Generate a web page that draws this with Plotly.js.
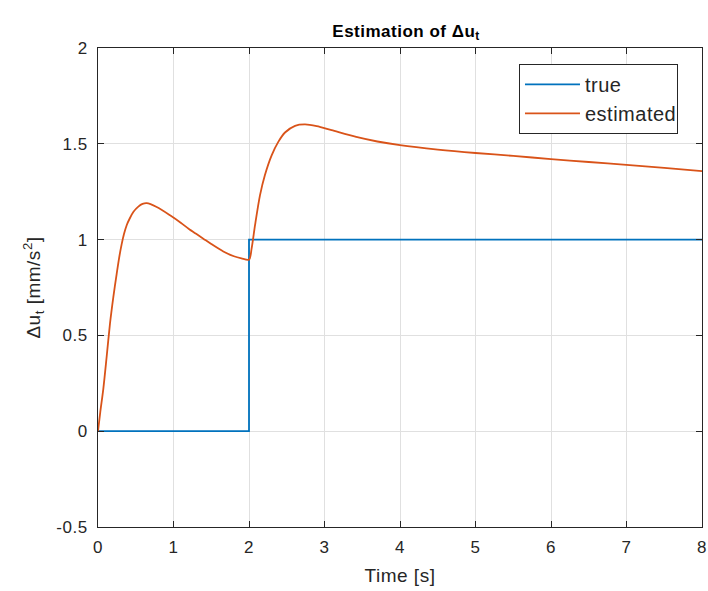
<!DOCTYPE html>
<html>
<head>
<meta charset="utf-8">
<script src="https://cdn.plot.ly/plotly-3.0.1.min.js"></script>
<style>
  html, body { margin: 0; padding: 0; background: #fff; }
  #chart { width: 708px; height: 591px; }
  #chart svg text { letter-spacing: 0.5px; }
</style>
</head>
<body>
<div id="chart"></div>
<script>
// Step input: zero until t = 2 s, then 1 mm/s^2
const trueTime = [0, 2, 8];
const trueValue = [0, 1, 1];

// Estimator output over time
const estTime = [0, 0.03, 0.07, 0.115, 0.159, 0.203, 0.247, 0.28, 0.313, 0.345, 0.38, 0.42, 0.47, 0.534, 0.59, 0.645,
  0.777, 0.954, 1.1, 1.2, 1.3, 1.395, 1.5, 1.66, 1.8, 1.9, 2.0,
  2.035, 2.08, 2.146, 2.21, 2.3, 2.388, 2.477, 2.61, 2.742, 2.897, 3.095,
  3.42, 3.7, 4.0, 4.5, 5, 5.5, 6, 6.5, 7, 7.5, 8];
const estValue = [0, 0.1, 0.22, 0.39, 0.562, 0.7, 0.82, 0.905, 0.975, 1.03, 1.075, 1.11, 1.145, 1.172, 1.186, 1.19,
  1.17, 1.127, 1.087, 1.057, 1.03, 1.005, 0.977, 0.938, 0.913, 0.902, 0.895,
  0.954, 1.075, 1.232, 1.336, 1.44, 1.51, 1.559, 1.594, 1.601, 1.592, 1.571,
  1.536, 1.512, 1.493, 1.47, 1.452, 1.437, 1.42, 1.405, 1.39, 1.374, 1.357];

const xTicks = [0, 1, 2, 3, 4, 5, 6, 7, 8];
const yTicks = [-0.5, 0, 0.5, 1, 1.5, 2];
const yTickLabels = ['-0.5', '0', '0.5', '1', '1.5', '2'];

const axisColor = '#262626';
const gridColor = '#e0e0e0';
const fontFamily = 'Liberation Sans, Arial, Helvetica, sans-serif';

const traces = [
  {
    x: trueTime, y: trueValue, name: 'true', type: 'scatter', mode: 'lines',
    line: { color: '#0072BD', width: 1.8, shape: 'hv' }
  },
  {
    x: estTime, y: estValue, name: 'estimated', type: 'scatter', mode: 'lines',
    line: { color: '#D95319', width: 1.8, shape: 'spline', smoothing: 0.8 }
  }
];

const axisCommon = {
  showline: true, linecolor: axisColor, linewidth: 1, mirror: 'ticks',
  ticks: 'inside', ticklen: 6, tickcolor: axisColor, tickwidth: 1,
  showgrid: true, gridcolor: gridColor, gridwidth: 1,
  zeroline: false,
  tickfont: { family: fontFamily, size: 17, color: axisColor }
};

const layout = {
  width: 708, height: 591,
  margin: { l: 98, r: 6, t: 48, b: 64 },
  paper_bgcolor: '#ffffff', plot_bgcolor: '#ffffff',
  font: { family: fontFamily, color: axisColor },
  title: {
    text: '<b>Estimation of Δu<sub>t</sub></b>',
    font: { family: fontFamily, size: 17, color: '#000000' },
    xref: 'paper', x: 0.51, xanchor: 'center',
    yref: 'container', y: 0.948, yanchor: 'middle'
  },
  xaxis: Object.assign({}, axisCommon, {
    range: [0, 8], tickvals: xTicks, ticklabelstandoff: 5,
    title: { text: 'Time [s]', font: { family: fontFamily, size: 19, color: axisColor }, standoff: 12 }
  }),
  yaxis: Object.assign({}, axisCommon, {
    range: [-0.5, 2], tickvals: yTicks, ticktext: yTickLabels, ticklabelstandoff: 6,
    title: { text: 'Δu<sub>t</sub> [mm/s<sup>2</sup>]', font: { family: fontFamily, size: 19, color: axisColor }, standoff: 12 }
  }),
  showlegend: true,
  legend: {
    x: 0.697, y: 0.967, xanchor: 'left', yanchor: 'top',
    bgcolor: '#ffffff', bordercolor: axisColor, borderwidth: 1,
    font: { family: fontFamily, size: 20, color: axisColor },
    itemwidth: 55, tracegroupgap: 0
  }
};

Plotly.newPlot('chart', traces, layout, { displayModeBar: false, staticPlot: true });
</script>
</body>
</html>
